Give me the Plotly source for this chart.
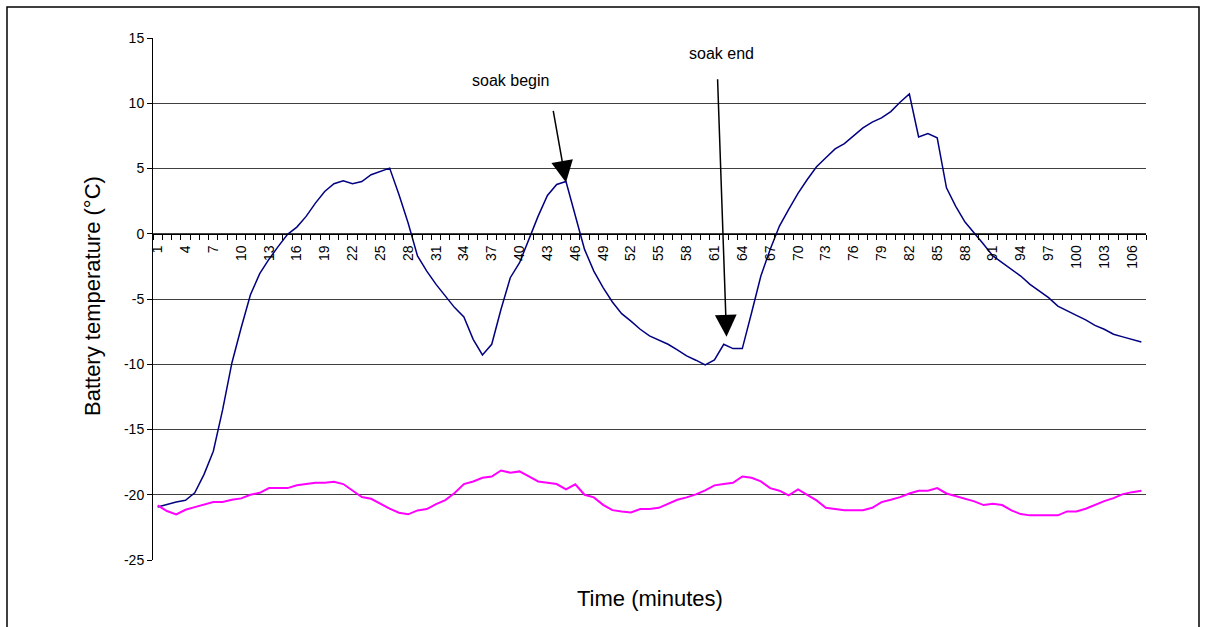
import plotly.graph_objects as go

# ---- data ----
minutes = list(range(1, 108))

battery_temp = [
    -20.94, -20.74, -20.56, -20.43, -19.85, -18.44, -16.66, -13.5, -9.9, -7.2,
    -4.67, -3.06, -1.95, -0.97, -0.05, 0.51, 1.33, 2.35, 3.24, 3.83,
    4.06, 3.83, 4.0, 4.52, 4.77, 5.03, 3.0, 0.8, -1.7, -2.86,
    -3.88, -4.77, -5.66, -6.38, -8.09, -9.29, -8.47, -5.79, -3.37, -2.22,
    -0.43, 1.35, 2.93, 3.78, 4.0, 1.3, -1.2, -2.86, -4.13, -5.23,
    -6.12, -6.7, -7.32, -7.83, -8.14, -8.47, -8.9, -9.36, -9.69, -10.05,
    -9.67, -8.47, -8.8, -8.8, -6.05, -3.24, -1.2, 0.59, 1.86, 3.09,
    4.16, 5.13, 5.82, 6.5, 6.91, 7.53, 8.11, 8.55, 8.88, 9.36,
    10.08, 10.71, 7.42, 7.68, 7.35, 3.52, 2.1, 0.9, 0.08, -0.8,
    -1.7, -2.2, -2.73, -3.24, -3.88, -4.39, -4.9, -5.54, -5.92, -6.25,
    -6.6, -7.02, -7.32, -7.7, -7.9, -8.1, -8.3,
]

ambient_temp = [
    -20.82, -21.25, -21.5, -21.15, -20.95, -20.74, -20.56, -20.56, -20.38, -20.28,
    -20.0, -19.85, -19.49, -19.49, -19.49, -19.28, -19.18, -19.08, -19.08, -19.0,
    -19.18, -19.67, -20.18, -20.31, -20.69, -21.07, -21.38, -21.5, -21.2, -21.1,
    -20.72, -20.41, -19.87, -19.18, -18.98, -18.7, -18.6, -18.14, -18.31, -18.21,
    -18.6, -18.98, -19.08, -19.18, -19.59, -19.2, -20.0, -20.2, -20.77, -21.18,
    -21.28, -21.36, -21.1, -21.1, -21.0, -20.69, -20.38, -20.2, -19.97, -19.67,
    -19.28, -19.18, -19.08, -18.6, -18.7, -18.98, -19.49, -19.69, -20.05, -19.59,
    -20.0, -20.43, -21.0, -21.1, -21.18, -21.18, -21.18, -21.0, -20.56, -20.38,
    -20.18, -19.9, -19.69, -19.69, -19.49, -19.9, -20.1, -20.31, -20.51, -20.79,
    -20.69, -20.79, -21.2, -21.48, -21.58, -21.58, -21.58, -21.58, -21.28, -21.28,
    -21.07, -20.77, -20.49, -20.26, -19.95, -19.8, -19.7,
]

x_tick_vals = list(range(1, 107, 3))
x_tick_text = [str(v) for v in x_tick_vals]
y_tick_vals = [-25, -20, -15, -10, -5, 0, 5, 10, 15]
y_tick_text = [str(v) for v in y_tick_vals]  # plain hyphen-minus as in the reference

# annotation anchors (category, value)
soak_begin_tip = (45, 3.93)
soak_begin_label = (39.05, 11.72)
soak_end_tip = (62.3, -7.89)
soak_end_label = (61.8, 13.8)

# ---- layout geometry ----
W, H = 1207, 627
ML, MR, MT, MB = 153, 61, 38, 67
PW = W - ML - MR
PH = H - MT - MB
FONT = "Liberation Sans, Arial, sans-serif"


def px_x(px):
    return (px - ML) / PW


def px_y(py):
    return (H - MB - py) / PH


fig = go.Figure()
fig.add_trace(go.Scatter(x=minutes, y=battery_temp, mode="lines",
                         line=dict(color="#000080", width=1.5),
                         showlegend=False, hoverinfo="skip"))
fig.add_trace(go.Scatter(x=minutes, y=ambient_temp, mode="lines",
                         line=dict(color="#FF00FF", width=2),
                         showlegend=False, hoverinfo="skip"))

n = len(minutes)
boundaries = [i + 0.5 for i in range(0, n + 1)]

fig.update_layout(
    width=W, height=H,
    margin=dict(l=ML, r=MR, t=MT, b=MB),
    paper_bgcolor="white", plot_bgcolor="white",
    font=dict(family=FONT, color="black"),
    xaxis=dict(
        range=[0.5, n + 0.5], anchor="free", position=25 / 40,
        showline=True, linecolor="black", linewidth=1,
        showgrid=False, zeroline=False,
        tickmode="array", tickvals=x_tick_vals, ticktext=x_tick_text,
        tickangle=-90, ticks="outside", ticklen=5, tickcolor="rgba(0,0,0,0)",
        tickfont=dict(size=14, family=FONT, color="black"),
        minor=dict(tickmode="array", tickvals=boundaries, ticks="outside",
                   ticklen=5, tickcolor="black", tickwidth=1, showgrid=False),
    ),
    yaxis=dict(
        range=[-25, 15], showline=True, linecolor="black", linewidth=1,
        showgrid=True, gridcolor="#404040", gridwidth=1, zeroline=False,
        tickmode="array", tickvals=y_tick_vals, ticktext=y_tick_text,
        ticks="outside", ticklen=5, tickcolor="black",
        tickfont=dict(size=14, family=FONT, color="black"),
    ),
)

annotations = [
    dict(text="Battery temperature (°C)", xref="paper", yref="paper",
         x=px_x(92), y=px_y(296), textangle=-90, showarrow=False,
         xanchor="center", yanchor="middle", font=dict(size=22, family=FONT)),
    dict(text="Time (minutes)", xref="paper", yref="paper",
         x=px_x(650), y=px_y(598), showarrow=False,
         xanchor="center", yanchor="middle", font=dict(size=22, family=FONT)),
    dict(text="soak begin", x=soak_begin_label[0], y=soak_begin_label[1],
         xref="x", yref="y", showarrow=False, font=dict(size=16, family=FONT)),
    dict(text="soak end", x=soak_end_label[0], y=soak_end_label[1],
         xref="x", yref="y", showarrow=False, font=dict(size=16, family=FONT)),
    dict(text="", x=soak_begin_tip[0], y=soak_begin_tip[1], xref="x", yref="y",
         showarrow=True, arrowhead=2, arrowsize=2.9, arrowwidth=1.5,
         arrowcolor="black", ax=-13, ay=-73),
    dict(text="", x=soak_end_tip[0], y=soak_end_tip[1], xref="x", yref="y",
         showarrow=True, arrowhead=2, arrowsize=2.9, arrowwidth=1.5,
         arrowcolor="black", ax=-9, ay=-259),
]
fig.update_layout(annotations=annotations)

fig.add_shape(type="rect", xref="paper", yref="paper",
              x0=px_x(7), x1=px_x(1199), y0=px_y(660), y1=px_y(7),
              line=dict(color="black", width=1.5), fillcolor="rgba(0,0,0,0)",
              layer="below")

fig.write_html("out.html")
